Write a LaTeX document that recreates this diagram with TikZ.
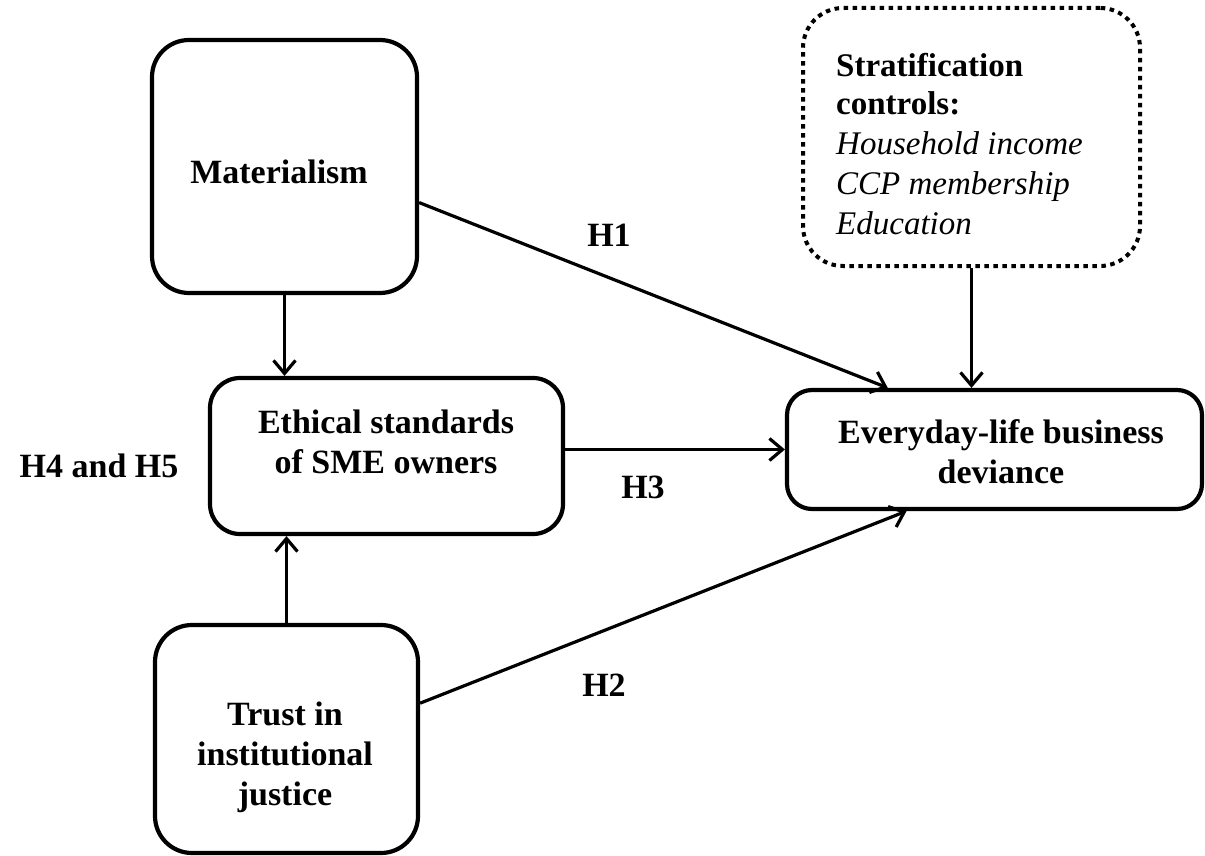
\documentclass[tikz,border=0pt]{standalone}
\usepackage{fontspec}
\setmainfont{Liberation Serif}
\usetikzlibrary{arrows.meta,calc}
\begin{document}
\begin{tikzpicture}[x=1pt,y=-1pt,
  rbox/.style={draw, line width=4.2pt, rounded corners=#1, inner sep=0pt},
  dotbox/.style={draw, line width=4pt, dash pattern=on 4.5pt off 4.5pt, rounded corners=40pt, inner sep=0pt},
  lbl/.style={font=\fontsize{34}{40}\selectfont\bfseries, align=center, inner sep=0pt},
  ctltext/.style={font=\fontsize{33}{40}\selectfont, align=left, inner sep=0pt},
  conn/.style={line width=3.2pt, -{Straight Barb[length=13pt, width=22pt, line width=3.2pt]}}]
\useasboundingbox (0,0) rectangle (1205,856);
% boxes
\node[rbox=37pt, minimum width=265pt, minimum height=253pt] (mat) at (284.5,166.5) {};
\node[rbox=30pt, minimum width=353pt, minimum height=156pt] (eth) at (386.5,456) {};
\node[rbox=37pt, minimum width=263pt, minimum height=228pt] (tru) at (286.5,739) {};
\node[rbox=25pt, minimum width=415pt, minimum height=119pt] (eve) at (994.5,449.5) {};
\node[dotbox, minimum width=337pt, minimum height=258pt] (ctl) at (971.5,137) {};
% texts
\node[lbl] (matt) at (279,172) {Materialism};
\node[lbl] (etht) at (386,442) {Ethical standards\\of SME owners};
\node[lbl] (trut) at (285,757) {Trust in\\institutional\\justice};
\node[lbl] (evet) at (1001,452) {Everyday-life business\\deviance};
\node[ctltext, anchor=west] (ctlt) at (836,144)
  {\textbf{Stratification}\\[-2pt]
   \textbf{controls:}\\
   \textit{Household income}\\
   \textit{CCP membership}\\
   \textit{Education}};
% hypothesis labels
\node[lbl] (h1) at (609,235) {H1};
\node[lbl] (h2) at (604,685) {H2};
\node[lbl] (h3) at (643,487) {H3};
\node[lbl] (h45) at (99,466) {H4 and H5};
% connectors
\draw[conn] (mat.south) -- (mat.south |- eth.north);
\draw[conn] (tru.north) -- (tru.north |- eth.south);
\draw[conn] (eth.east |- eve.west) -- (eve.west);
\draw[conn] (mat.-15) -- (eve.150);
\draw[conn] (tru.15) -- (eve.-145);
\draw[conn] (ctl.south) -- (ctl.south |- eve.north);
\end{tikzpicture}
\end{document}
